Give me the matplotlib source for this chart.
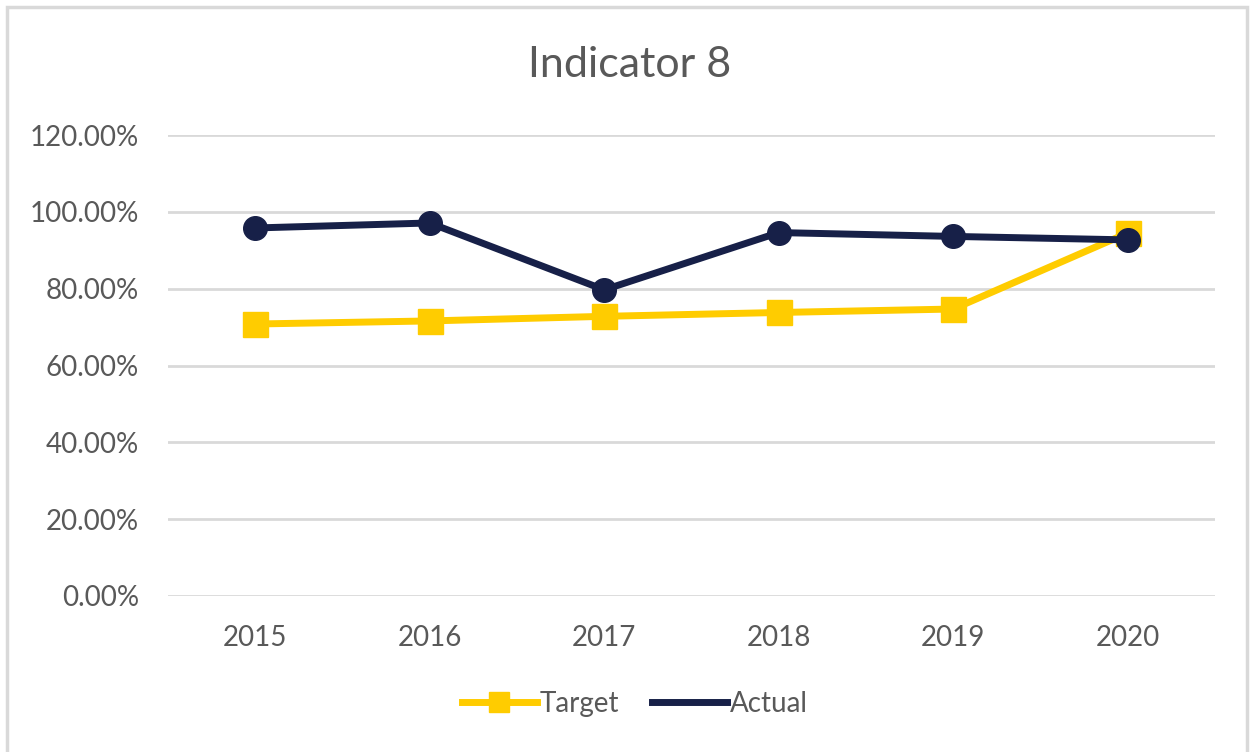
import matplotlib
matplotlib.use("Agg")
from matplotlib import pyplot as plt
from matplotlib.lines import Line2D
from matplotlib.patches import Rectangle
from matplotlib.ticker import PercentFormatter

# chart data
years = ["2015", "2016", "2017", "2018", "2019", "2020"]
target = [70.8, 71.6, 72.8, 73.8, 74.7, 94.5]
actual = [95.8, 97.1, 79.7, 94.6, 93.6, 92.7]
y_ticks = [0, 20, 40, 60, 80, 100, 120]

gold = "#FFCC00"
navy = "#172048"
grey_txt = "#595959"

plt.rcParams["font.family"] = ["Lato", "DejaVu Sans"]

fig = plt.figure(figsize=(12.5, 7.52), dpi=100)
ax = fig.add_axes([168 / 1250, 1 - 596 / 752, 1047 / 1250, 461 / 752])

# light frame around the chart, like the spreadsheet chart area
fig.patches.append(Rectangle((7 / 1250, -0.05), 1240 / 1250, 1.05 - 7 / 752,
                             transform=fig.transFigure, fill=False,
                             edgecolor="#D9D9D9", linewidth=2.5))

xs = range(len(years))
ax.plot(xs, target, color=gold, linewidth=5, marker="s", markersize=18,
        solid_capstyle="round", zorder=3)
ax.plot(xs, actual, color=navy, linewidth=5, marker="o", markersize=17,
        solid_capstyle="round", zorder=4)

ax.set_xlim(-0.5, len(years) - 0.5)
ax.set_ylim(0, 120)
ax.set_yticks(y_ticks)
ax.yaxis.set_major_formatter(PercentFormatter(decimals=2))
ax.set_xticks(list(xs))
ax.set_xticklabels(years)
ax.grid(axis="y", color="#D9D9D9", linewidth=2)
ax.set_axisbelow(True)
for s in ax.spines.values():
    s.set_visible(False)
ax.tick_params(length=0, labelsize=20, labelcolor=grey_txt)
ax.tick_params(axis="y", pad=21)
ax.tick_params(axis="x", pad=21)

fig.text(0.504, 1 - 65 / 752, "Indicator 8", ha="center", va="center",
         fontsize=31, color=grey_txt)

handles = [Line2D([], [], color=gold, linewidth=5, marker="s", markersize=14),
           Line2D([], [], color=navy, linewidth=5)]
fig.legend(handles, ["Target", "Actual"], loc="center",
           bbox_to_anchor=(0.508, 1 - 704 / 752), ncol=2, frameon=False,
           fontsize=20, labelcolor=grey_txt, handlelength=2.7,
           handletextpad=0.1, columnspacing=1.2)

fig.savefig("out.png", dpi=100)
